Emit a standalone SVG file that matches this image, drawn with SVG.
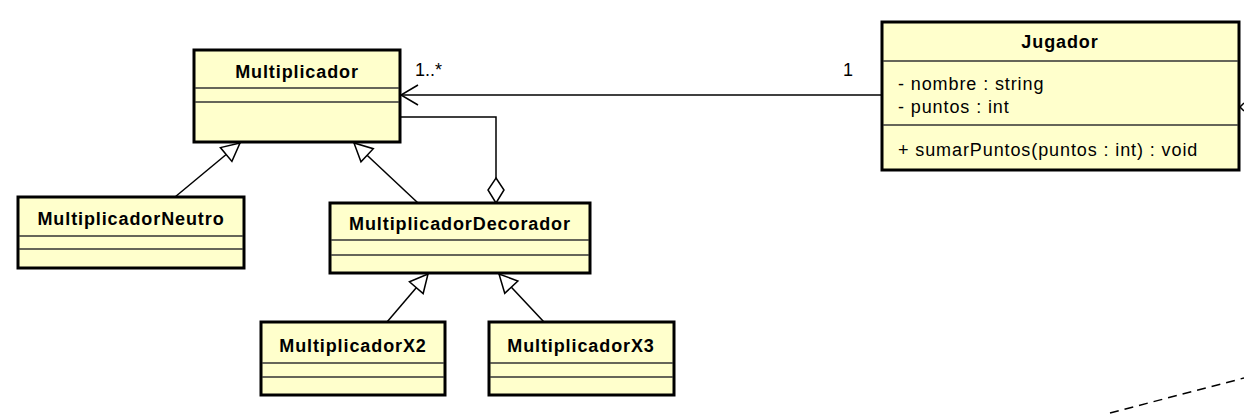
<svg xmlns="http://www.w3.org/2000/svg" width="1244" height="415" viewBox="0 0 1244 415">
<style>
.box{fill:#FFFFCC;stroke:#000;stroke-width:3}
.div{stroke:#333;stroke-width:1.6;fill:none}
.title{font-family:"Liberation Sans",Arial,sans-serif;font-weight:bold;font-size:18px;letter-spacing:0.9px;text-anchor:middle;fill:#000}
.txt{font-family:"Liberation Sans",Arial,sans-serif;font-size:18px;letter-spacing:0.9px;fill:#000}
.lbl{font-family:"Liberation Sans",Arial,sans-serif;font-size:18px;fill:#000}
.edge{stroke:#000;stroke-width:1.5;fill:none}
</style>
<defs>
<marker id="gen" markerUnits="userSpaceOnUse" markerWidth="22" markerHeight="22" viewBox="0 0 22 22" refX="20" refY="11" orient="auto">
<path d="M20,11 L2,2 L2,20 Z" fill="#fff" stroke="#000" stroke-width="1.5"/>
</marker>
</defs>
<g id="connectors">
<path class="edge" d="M882,95 L401,95"/>
<path class="edge" d="M418,85 L401,95 L418,105"/>
<path class="edge" d="M400,117 L496,117 L496,178"/>
<path class="edge" d="M496,178 L504,190 L496,203 L488,190 Z" fill="#fff"/>
<line class="edge" x1="175" y1="197" x2="240" y2="143" marker-end="url(#gen)"/>
<line class="edge" x1="418" y1="203" x2="354" y2="143" marker-end="url(#gen)"/>
<line class="edge" x1="387" y1="322" x2="428" y2="274" marker-end="url(#gen)"/>
<line class="edge" x1="544" y1="322" x2="499" y2="274" marker-end="url(#gen)"/>
<path class="edge" d="M1110,413 L1244,378" stroke-dasharray="9,6"/>
<path class="edge" d="M1244,103 L1240,107 L1244,111"/>
<text class="lbl" x="415" y="76">1..*</text>
<text class="lbl" x="843" y="76">1</text>
</g>
<g id="Multiplicador">
<rect class="box" x="194" y="50" width="206" height="92"/>
<line class="div" x1="195" y1="88" x2="399" y2="88"/>
<line class="div" x1="195" y1="102" x2="399" y2="102"/>
<text class="title" x="297" y="78">Multiplicador</text>
</g>
<g id="Jugador">
<rect class="box" x="882" y="22" width="357" height="148"/>
<line class="div" x1="883" y1="61" x2="1238" y2="61"/>
<line class="div" x1="883" y1="125" x2="1238" y2="125"/>
<text class="title" x="1060" y="48">Jugador</text>
<text class="txt" x="898" y="90">- nombre : string</text>
<text class="txt" x="898" y="113">- puntos : int</text>
<text class="txt" x="898" y="156">+ sumarPuntos(puntos : int) : void</text>
</g>
<g id="MultiplicadorNeutro">
<rect class="box" x="18" y="197" width="226" height="71"/>
<line class="div" x1="19" y1="236" x2="243" y2="236"/>
<line class="div" x1="19" y1="249" x2="243" y2="249"/>
<text class="title" x="131" y="225">MultiplicadorNeutro</text>
</g>
<g id="MultiplicadorDecorador">
<rect class="box" x="330" y="203" width="260" height="70"/>
<line class="div" x1="331" y1="240" x2="589" y2="240"/>
<line class="div" x1="331" y1="255" x2="589" y2="255"/>
<text class="title" x="460" y="230">MultiplicadorDecorador</text>
</g>
<g id="MultiplicadorX2">
<rect class="box" x="261" y="322" width="184" height="73"/>
<line class="div" x1="262" y1="363" x2="444" y2="363"/>
<line class="div" x1="262" y1="377" x2="444" y2="377"/>
<text class="title" x="353" y="352">MultiplicadorX2</text>
</g>
<g id="MultiplicadorX3">
<rect class="box" x="489" y="322" width="185" height="73"/>
<line class="div" x1="490" y1="363" x2="673" y2="363"/>
<line class="div" x1="490" y1="377" x2="673" y2="377"/>
<text class="title" x="581" y="352">MultiplicadorX3</text>
</g>
</svg>
